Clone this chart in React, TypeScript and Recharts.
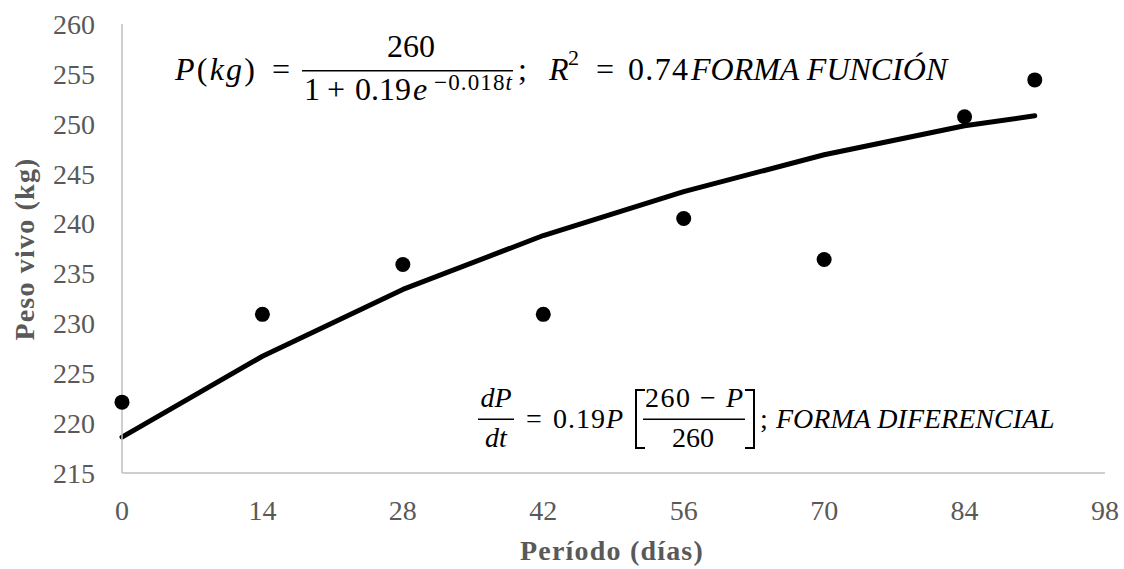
import React from 'react';
import { ComposedChart, Line, Scatter, XAxis, YAxis } from 'recharts';

const days = [0, 14, 28, 42, 56, 70, 84, 91];
const observedKg = [222.1, 230.9, 235.9, 230.9, 240.5, 236.4, 250.7, 254.4];
const fittedKg = [218.6, 226.7, 233.4, 238.8, 243.2, 246.9, 249.8, 250.8];
const xTicks = [0, 14, 28, 42, 56, 70, 84, 98];
const yTicks = [215, 220, 225, 230, 235, 240, 245, 250, 255, 260];

const data = days.map((t, i) => ({ t, obs: observedKg[i], fit: fittedKg[i] }));

const SERIF = "'Liberation Serif', 'DejaVu Serif', serif";
const GREY = '#595959';
const AXIS = '#BFBFBF';

const Dot = (p: any) => <circle cx={p.cx} cy={p.cy} r={7.5} fill="#000" />;

// equations and axis titles drawn over the chart
const Overlay = () => (
  <svg
    width={1124}
    height={569}
    style={{ position: 'absolute', left: 0, top: 0, pointerEvents: 'none' }}
  >
    <g fontFamily={SERIF} fontSize={28}>
      {/* axis titles */}
      <text x={612} y={560} textAnchor="middle" fontWeight="bold" fill={GREY} letterSpacing={1.2}>
        Período (días)
      </text>
      <text
        transform="translate(34,249) rotate(-90)"
        textAnchor="middle"
        fontWeight="bold"
        fill={GREY}
        letterSpacing={1.2}
      >
        Peso vivo  (kg)
      </text>

      {/* P(kg) = 260 / (1 + 0.19e^-0.018t); R2 = 0.74 FORMA FUNCION */}
      <g fontSize={32}>
        <text x={175} y={80} textLength={80} lengthAdjust="spacing">
          <tspan fontStyle="italic">P</tspan>(<tspan fontStyle="italic">kg</tspan>)
        </text>
        <text x={281} y={80} textAnchor="middle">=</text>
        <text x={411} y={57} textAnchor="middle">260</text>
        <line x1={302} x2={513} y1={70.7} y2={70.7} stroke="#000" strokeWidth={1.5} />
        <text x={304} y={100}>1</text>
        <text x={336} y={100} textAnchor="middle">+</text>
        <text x={355} y={100}>0.19</text>
        <text x={413} y={100} fontStyle="italic">e</text>
        <text x={434} y={90} fontSize={23} textLength={78} lengthAdjust="spacing">
          −0.018<tspan fontStyle="italic">t</tspan>
        </text>
        <text x={518} y={80}>;</text>
        <text x={549} y={80} fontStyle="italic">R</text>
        <text x={568} y={65} fontSize={22}>2</text>
        <text x={605} y={80} textAnchor="middle">=</text>
        <text x={628} y={80} textLength={60} lengthAdjust="spacing">0.74</text>
        <text x={691} y={80} fontStyle="italic">
          FORMA FUNCIÓN
        </text>
      </g>

      {/* dP/dt = 0.19P [(260 - P)/260]; FORMA DIFERENCIAL */}
      <text x={496} y={407} textAnchor="middle" fontStyle="italic">dP</text>
      <line x1={478} x2={514} y1={419.3} y2={419.3} stroke="#000" strokeWidth={1.5} />
      <text x={496} y={447} textAnchor="middle" fontStyle="italic">dt</text>
      <text x={534} y={428} textAnchor="middle">=</text>
      <text x={553} y={428} textLength={52} lengthAdjust="spacing">0.19</text>
      <text x={606} y={428} fontStyle="italic">P</text>
      <path d="M645,390 H636 V448 H645" fill="none" stroke="#000" strokeWidth={2} />
      <text x={694} y={407} textAnchor="middle" textLength={98} lengthAdjust="spacing">
        260 − <tspan fontStyle="italic">P</tspan>
      </text>
      <line x1={643} x2={745} y1={419.3} y2={419.3} stroke="#000" strokeWidth={1.5} />
      <text x={693} y={447} textAnchor="middle">260</text>
      <path d="M745,390 H754 V448 H745" fill="none" stroke="#000" strokeWidth={2} />
      <text x={760} y={428}>;</text>
      <text x={776} y={428} fontStyle="italic">
        FORMA DIFERENCIAL
      </text>
    </g>
  </svg>
);

export default function App() {
  return (
    <div style={{ position: 'absolute', left: 0, top: 0, width: 1124, height: 569, background: '#fff' }}>
      <ComposedChart
        width={1124}
        height={569}
        data={data}
        margin={{ top: 24, right: 19, bottom: 0, left: 0 }}
      >
        <XAxis
          dataKey="t"
          type="number"
          domain={[0, 98]}
          ticks={xTicks}
          interval={0}
          height={96}
          tickLine={false}
          tickSize={0}
          tickMargin={27}
          axisLine={{ stroke: AXIS, strokeWidth: 1.5 }}
          tick={{ fill: GREY, fontSize: 28, fontFamily: SERIF }}
        />
        <YAxis
          type="number"
          domain={[215, 260]}
          ticks={yTicks}
          interval={0}
          width={122}
          tickLine={false}
          tickSize={0}
          tickMargin={27}
          axisLine={{ stroke: AXIS, strokeWidth: 1.5 }}
          tick={{ fill: GREY, fontSize: 28, fontFamily: SERIF }}
        />
        <Line
          dataKey="fit"
          type="linear"
          stroke="#000"
          strokeWidth={5}
          strokeLinecap="round"
          strokeLinejoin="round"
          dot={false}
          activeDot={false}
          isAnimationActive={false}
        />
        <Scatter dataKey="obs" fill="#000" shape={Dot} isAnimationActive={false} />
      </ComposedChart>
      <Overlay />
    </div>
  );
}
